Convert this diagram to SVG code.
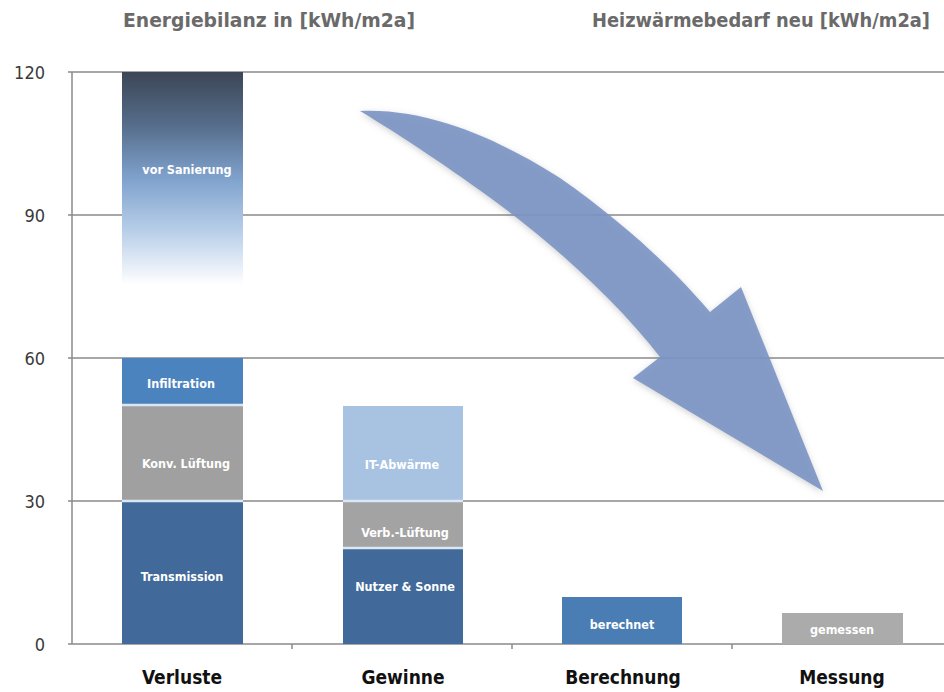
<svg xmlns="http://www.w3.org/2000/svg" width="944" height="692" viewBox="0 0 944 692">
<style>
.title{font-family:"DejaVu Sans Condensed","DejaVu Sans",sans-serif;font-size:19px;fill:#6a6a6a;font-weight:bold}
.ax{font-family:"DejaVu Sans Condensed","DejaVu Sans",sans-serif;font-size:18px;fill:#3a3a3a;text-anchor:end}
.cat{font-family:"DejaVu Sans Condensed","DejaVu Sans",sans-serif;font-size:19px;fill:#111;font-weight:bold;text-anchor:middle}
.lbl{font-family:"DejaVu Sans Condensed","DejaVu Sans",sans-serif;font-size:12.5px;fill:#fff;font-weight:bold;text-anchor:middle}
.grid{stroke:#8a8a8a;stroke-width:1.5}
.sep{stroke:#dbe7f3;stroke-width:2.5}
</style>
<defs>
<linearGradient id="gVor" x1="0" y1="0" x2="0" y2="1">
<stop offset="0" stop-color="#3c4656"/>
<stop offset="0.25" stop-color="#566d8b"/>
<stop offset="0.5" stop-color="#7fa2cd"/>
<stop offset="0.75" stop-color="#b9cfe9"/>
<stop offset="1" stop-color="#ffffff"/>
</linearGradient>
<filter id="sh" x="-10%" y="-10%" width="120%" height="120%">
<feDropShadow dx="0" dy="2" stdDeviation="3" flood-color="#707070" flood-opacity="0.35"/>
</filter>
</defs>
<rect width="944" height="692" fill="#fff"/>
<g id="titles">
<text class="title" x="123" y="27" textLength="292" lengthAdjust="spacingAndGlyphs">Energiebilanz in [kWh/m2a]</text>
<text class="title" x="592" y="27" textLength="338" lengthAdjust="spacingAndGlyphs">Heizwärmebedarf neu [kWh/m2a]</text>
</g>
<g id="axis">
<line class="grid" x1="72" y1="72" x2="944" y2="72"/>
<line class="grid" x1="72" y1="215" x2="944" y2="215"/>
<line class="grid" x1="72" y1="358" x2="944" y2="358"/>
<line class="grid" x1="72" y1="501" x2="944" y2="501"/>
<line class="grid" x1="72" y1="644" x2="944" y2="644"/>
<line class="grid" x1="72" y1="72" x2="72" y2="644"/>
<g class="grid">
<line x1="68" y1="72" x2="72" y2="72"/><line x1="68" y1="215" x2="72" y2="215"/><line x1="68" y1="358" x2="72" y2="358"/><line x1="68" y1="501" x2="72" y2="501"/><line x1="68" y1="644" x2="72" y2="644"/>
<line x1="292" y1="644" x2="292" y2="649"/><line x1="512" y1="644" x2="512" y2="649"/><line x1="732" y1="644" x2="732" y2="649"/>
</g>
<text class="ax" x="45" y="79">120</text>
<text class="ax" x="45" y="222">90</text>
<text class="ax" x="45" y="365">60</text>
<text class="ax" x="45" y="508">30</text>
<text class="ax" x="45" y="651">0</text>
</g>
<g id="verluste">
<rect x="122" y="72" width="121" height="213" fill="url(#gVor)"/>
<text class="lbl" x="187" y="174">vor Sanierung</text>
<rect x="122" y="358" width="121" height="47" fill="#4a83bd"/>
<rect x="122" y="405" width="121" height="96" fill="#a0a0a0"/>
<rect x="122" y="501" width="121" height="143" fill="#41699a"/>
<line class="sep" x1="122" y1="405" x2="243" y2="405"/>
<line class="sep" x1="122" y1="501" x2="243" y2="501"/>
<text class="lbl" x="181" y="388">Infiltration</text>
<text class="lbl" x="186" y="468">Konv. Lüftung</text>
<text class="lbl" x="182" y="581">Transmission</text>
<text class="cat" x="182" y="684">Verluste</text>
</g>
<g id="gewinne">
<rect x="343" y="406" width="120" height="95" fill="#a8c2e2"/>
<rect x="343" y="501" width="120" height="47" fill="#a3a3a3"/>
<rect x="343" y="548" width="120" height="96" fill="#41699a"/>
<line class="sep" x1="343" y1="501" x2="463" y2="501"/>
<line class="sep" x1="343" y1="548" x2="463" y2="548"/>
<text class="lbl" x="402" y="469">IT-Abwärme</text>
<text class="lbl" x="405" y="537">Verb.-Lüftung</text>
<text class="lbl" x="405" y="591">Nutzer &amp; Sonne</text>
<text class="cat" x="403" y="684">Gewinne</text>
</g>
<g id="berechnung">
<rect x="562" y="597" width="120" height="47" fill="#4a7db3"/>
<text class="lbl" x="622" y="629">berechnet</text>
<text class="cat" x="623" y="684">Berechnung</text>
</g>
<g id="messung">
<rect x="782" y="613" width="121" height="31" fill="#ababab"/>
<text class="lbl" x="842" y="634">gemessen</text>
<text class="cat" x="842" y="684">Messung</text>
</g>
<g id="connectors">
<path d="M360,111 C430,108 500,140 560,178 C620,220 670,265 710,312 L741,287 L823,491 L633,378 L660,357 C620,305 560,250 500,205 C450,168 400,135 360,111 Z" fill="#7b94c4" fill-opacity="0.9" filter="url(#sh)"/>
</g>
</svg>
